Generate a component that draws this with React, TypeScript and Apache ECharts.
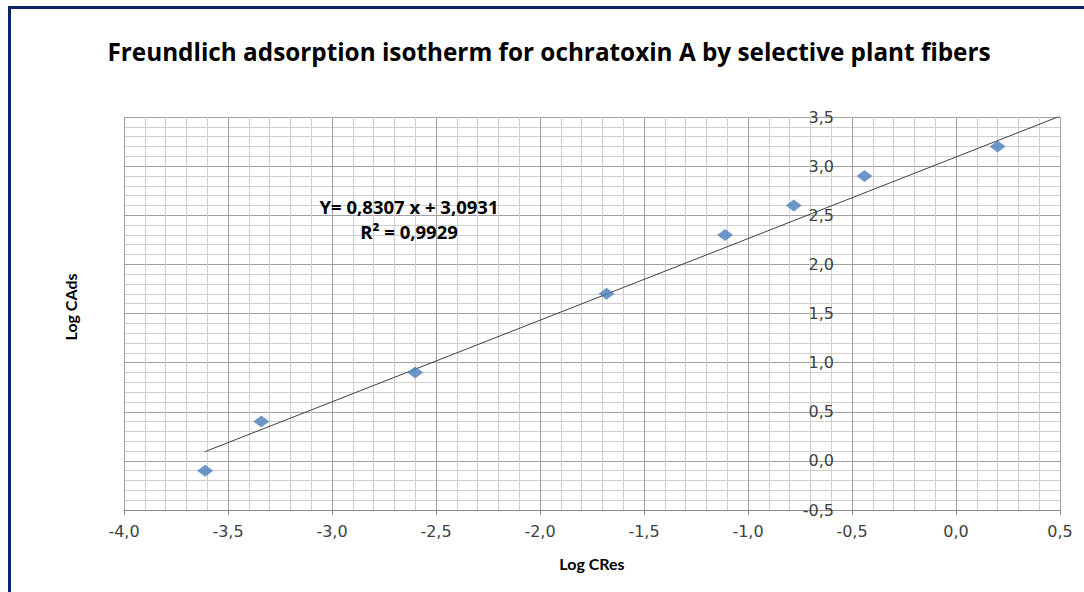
import React, { useEffect, useRef } from "react";
import * as echarts from "echarts";

const logCRes = [-3.61, -3.34, -2.6, -1.68, -1.11, -0.78, -0.44, 0.2];
const logCAds = [-0.1, 0.4, 0.9, 1.7, 2.3, 2.6, 2.9, 3.2];
const slope = 0.8307;
const intercept = 3.0931;
const trendX = [-3.61, 0.5];
const equationText = "Y= 0,8307 x + 3,0931";
const r2Text = "R² = 0,9929";
const titleText = "Freundlich adsorption isotherm for ochratoxin A by selective plant fibers";

const fmt = (v: number) => v.toFixed(1).replace(".", ",");

export default function App() {
  const ref = useRef<HTMLDivElement>(null);
  useEffect(() => {
    document.body.style.margin = "0";
    const chart = echarts.init(ref.current!, null, { renderer: "svg" });
    const labelFont = { fontFamily: "DejaVu Sans", fontSize: 16, color: "#404040" };
    chart.setOption({
      animation: false,
      backgroundColor: "#ffffff",
      grid: { left: 124, right: 24, top: 117, bottom: 82 },
      xAxis: {
        type: "value",
        min: -4,
        max: 0.5,
        interval: 0.5,
        name: "Log CRes",
        nameLocation: "middle",
        nameGap: 45,
        nameTextStyle: { fontFamily: "Lato", fontWeight: "bold", fontSize: 16, color: "#000" },
        axisLine: { onZero: false, lineStyle: { color: "#8c8c8c" } },
        axisTick: { show: true, length: 5, lineStyle: { color: "#8c8c8c" } },
        axisLabel: { ...labelFont, margin: 13, formatter: fmt },
        splitLine: { show: true, lineStyle: { color: "#a0a0a0", width: 1 } },
        minorTick: { show: false, splitNumber: 5 },
        minorSplitLine: { show: true, lineStyle: { color: "#cfcfcf", width: 1 } },
      },
      yAxis: {
        type: "value",
        min: -0.5,
        max: 3.5,
        interval: 0.5,
        offset: -728,
        axisLine: { show: false, onZero: false },
        axisTick: { show: false },
        axisLabel: { ...labelFont, margin: 18, formatter: fmt },
        splitLine: { show: true, lineStyle: { color: "#a0a0a0", width: 1 } },
        minorTick: { show: false, splitNumber: 5 },
        minorSplitLine: { show: true, lineStyle: { color: "#cfcfcf", width: 1 } },
      },
      series: [
        {
          type: "line",
          data: trendX.map((x) => [x, slope * x + intercept]),
          symbol: "none",
          lineStyle: { color: "#404040", width: 1 },
          z: 2,
        },
        {
          type: "scatter",
          data: logCRes.map((x, i) => [x, logCAds[i]]),
          symbol: "diamond",
          symbolSize: [16, 12],
          itemStyle: { color: "#4a7ebb" },
          z: 3,
        },
      ],
      graphic: [
        {
          type: "rect",
          shape: { x: 9.5, y: 7.5, width: 1200, height: 700 },
          style: { fill: "none", stroke: "#0b2463", lineWidth: 3 },
          z: 10,
        },
        {
          type: "text",
          x: 549,
          y: 51,
          style: {
            text: titleText,
            fontFamily: "Open Sans",
            fontWeight: "bold",
            fontSize: 24.3,
            fill: "#000",
            align: "center",
            verticalAlign: "middle",
          },
        },
        {
          type: "text",
          x: 409,
          y: 206,
          style: {
            text: equationText,
            fontFamily: "Open Sans",
            fontWeight: "bold",
            fontSize: 18.5,
            fill: "#000",
            align: "center",
            verticalAlign: "middle",
          },
          z: 5,
        },
        {
          type: "text",
          x: 409,
          y: 231,
          style: {
            text: r2Text,
            fontFamily: "Open Sans",
            fontWeight: "bold",
            fontSize: 18.5,
            fill: "#000",
            align: "center",
            verticalAlign: "middle",
          },
          z: 5,
        },
        {
          type: "text",
          x: 70,
          y: 307,
          rotation: Math.PI / 2,
          style: {
            text: "Log CAds",
            fontFamily: "Lato",
            fontWeight: "bold",
            fontSize: 16,
            fill: "#000",
            align: "center",
            verticalAlign: "middle",
          },
        },
      ],
    });
    return () => chart.dispose();
  }, []);
  return <div ref={ref} style={{ width: 1084, height: 592 }} />;
}
